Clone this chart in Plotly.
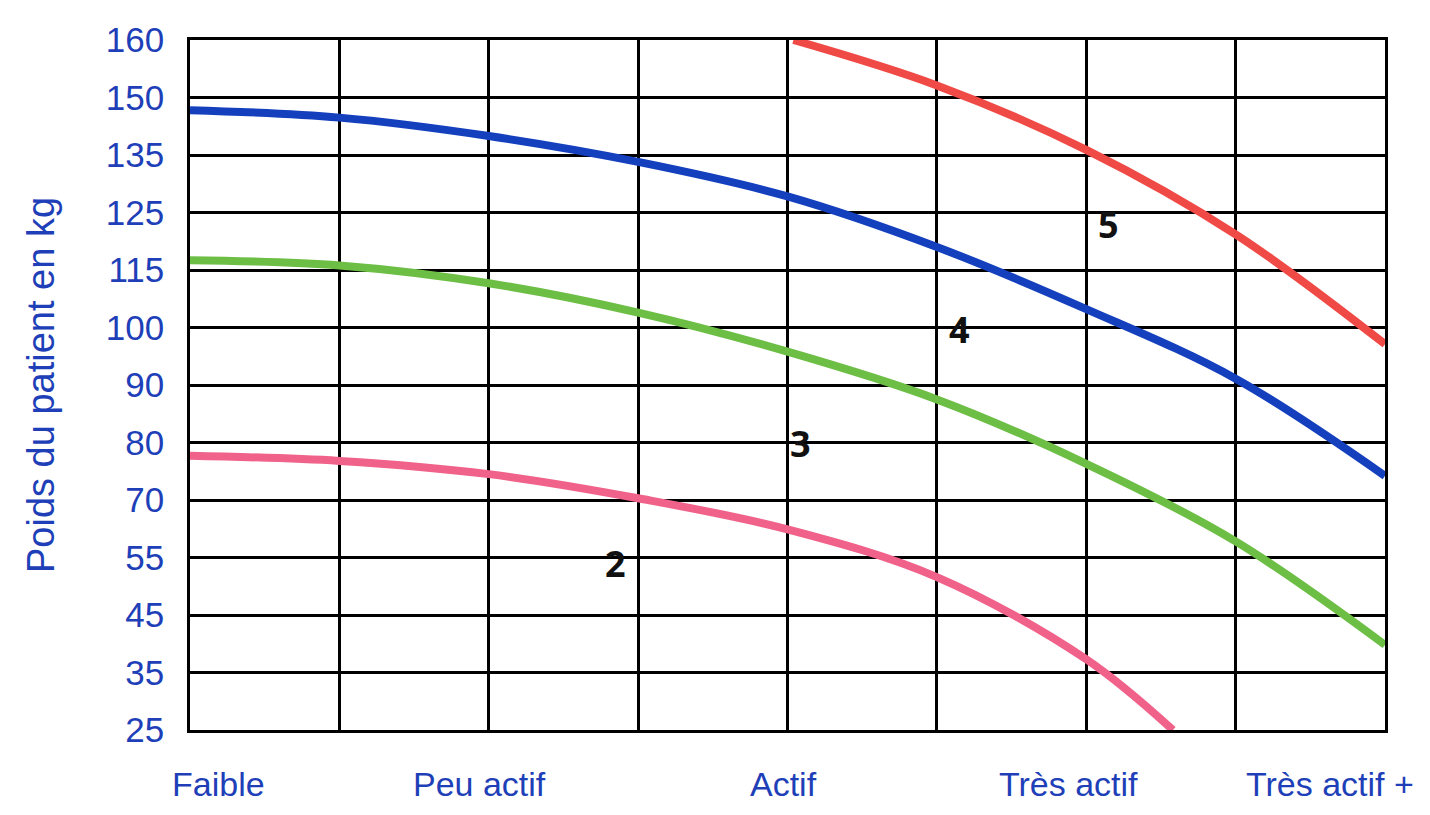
import plotly.graph_objects as go

# Weight tick labels (bottom to top), evenly spaced rows
weight_labels = ["25", "35", "45", "55", "70", "80", "90", "100", "115", "125", "135", "150", "160"]
# Activity levels and their horizontal position (in grid columns, 0..8)
activity_labels = ["Faible", "Peu actif", "Actif", "Très actif", "Très actif +"]
activity_pos = [0.19, 1.94, 3.97, 5.88, 7.63]

# Curves: x in grid columns, y in grid rows (0 = 25 kg row, 12 = 160 kg row)
curve2_x = [0, 1, 2, 3, 4, 5, 6, 6.58]
curve2_y = [4.77, 4.68, 4.45, 4.03, 3.49, 2.66, 1.23, 0.0]
curve3_x = [0, 1, 2, 3, 4, 5, 6, 7, 8]
curve3_y = [8.17, 8.08, 7.77, 7.26, 6.58, 5.75, 4.63, 3.28, 1.48]
curve4_x = [0, 1, 2, 3, 4, 5, 6, 7, 8]
curve4_y = [10.78, 10.65, 10.33, 9.88, 9.28, 8.40, 7.32, 6.11, 4.42]
curve5_x = [4.04, 5, 6, 7, 8]
curve5_y = [12.0, 11.21, 10.09, 8.62, 6.71]

curve_names = ["2", "3", "4", "5"]
label_x = [2.85, 4.09, 5.15, 6.15]
label_y = [2.9, 4.99, 6.97, 8.8]

colors = ["#F0628A", "#6DBE45", "#1440BE", "#F04A46"]
text_blue = "#1E3FB8"

fig = go.Figure()
for xs, ys, c, n in zip([curve2_x, curve3_x, curve4_x, curve5_x],
                        [curve2_y, curve3_y, curve4_y, curve5_y], colors, curve_names):
    fig.add_trace(go.Scatter(x=xs, y=ys, mode="lines", name=n,
                             line=dict(color=c, width=8, shape="spline", smoothing=1.0)))

for n, lx, ly in zip(curve_names, label_x, label_y):
    fig.add_annotation(x=lx, y=ly, text=f"<b>{n}</b>", showarrow=False,
                       font=dict(family="Open Sans", size=36, color="#111111"))

for lab, px in zip(activity_labels, activity_pos):
    fig.add_annotation(x=px, y=0, xref="x", yref="paper", text=lab, showarrow=False,
                       yanchor="middle", yshift=-54,
                       font=dict(family="Liberation Sans", size=34, color=text_blue))

# page body has an 8px margin: shrink the figure so the grid lands where the reference has it
fig.update_layout(
    width=1414, height=799,
    margin=dict(l=182, r=37, t=20, b=77),
    paper_bgcolor="white", plot_bgcolor="white",
    showlegend=False,
    xaxis=dict(range=[0, 8], tickvals=list(range(9)), showticklabels=False,
               showgrid=True, gridcolor="black", gridwidth=2.5,
               showline=True, linecolor="black", linewidth=2.5, mirror=True,
               zeroline=False, ticks=""),
    yaxis=dict(range=[0, 12], tickvals=list(range(13)), ticktext=weight_labels,
               showgrid=True, gridcolor="black", gridwidth=2.5,
               showline=True, linecolor="black", linewidth=2.5, mirror=True,
               zeroline=False, ticks="", ticklabelstandoff=16,
               tickfont=dict(family="Liberation Sans", size=35, color=text_blue),
               title=dict(text="Poids du patient en kg", standoff=40,
                          font=dict(family="Liberation Sans", size=38, color=text_blue))),
)

fig.write_html("out.html")
